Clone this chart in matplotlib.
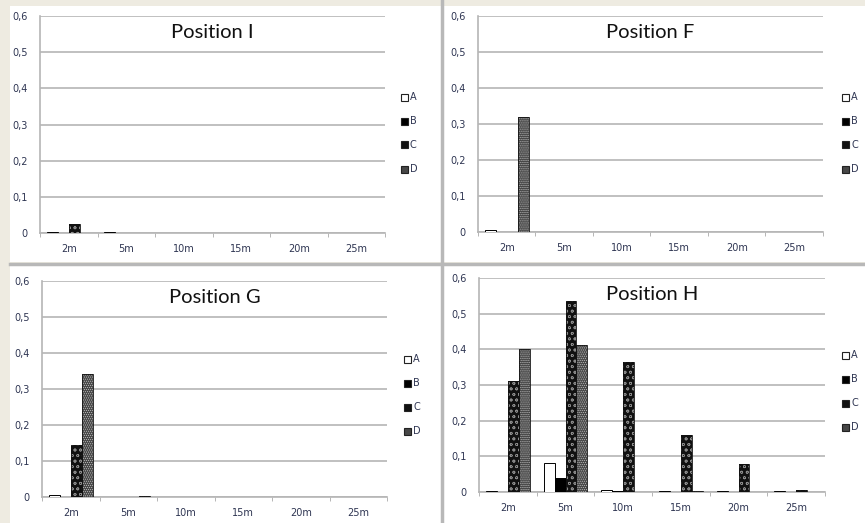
import matplotlib
matplotlib.use("Agg")
import matplotlib.pyplot as plt
import numpy as np
from matplotlib.patches import Rectangle
from matplotlib.lines import Line2D

categories = ["2m", "5m", "10m", "15m", "20m", "25m"]
series = ["A", "B", "C", "D"]
y_ticks = [0, 0.1, 0.2, 0.3, 0.4, 0.5, 0.6]
y_tick_labels = ["0", "0,1", "0,2", "0,3", "0,4", "0,5", "0,6"]

# Position I
pos_I_A = [0.003, 0.003, 0.0, 0.0, 0.0, 0.0]
pos_I_B = [0.0, 0.001, 0.0, 0.0, 0.0, 0.0]
pos_I_C = [0.025, 0.001, 0.0, 0.0, 0.0, 0.0]
pos_I_D = [0.0, 0.0, 0.0, 0.0, 0.0, 0.0]
# Position F
pos_F_A = [0.005, 0.0, 0.0, 0.0, 0.0, 0.0]
pos_F_B = [0.0, 0.0, 0.0, 0.0, 0.0, 0.0]
pos_F_C = [0.001, 0.0, 0.001, 0.001, 0.0, 0.0]
pos_F_D = [0.32, 0.0, 0.0, 0.0, 0.0, 0.0]
# Position G
pos_G_A = [0.005, 0.0, 0.0, 0.0, 0.0, 0.0]
pos_G_B = [0.0, 0.0, 0.0, 0.0, 0.0, 0.0]
pos_G_C = [0.145, 0.0, 0.0, 0.0, 0.0, 0.0]
pos_G_D = [0.342, 0.004, 0.0, 0.0, 0.0, 0.0]
# Position H
pos_H_A = [0.004, 0.08, 0.007, 0.002, 0.002, 0.002]
pos_H_B = [0.0, 0.04, 0.002, 0.0, 0.0, 0.0]
pos_H_C = [0.31, 0.535, 0.365, 0.16, 0.078, 0.006]
pos_H_D = [0.40, 0.413, 0.0, 0.003, 0.0, 0.001]

panels = [
    ("Position I", [pos_I_A, pos_I_B, pos_I_C, pos_I_D], (40, 385, 16, 233), (405, 97)),
    ("Position F", [pos_F_A, pos_F_B, pos_F_C, pos_F_D], (478, 823, 16, 232), (846, 97)),
    ("Position G", [pos_G_A, pos_G_B, pos_G_C, pos_G_D], (42, 387, 281, 497), (408, 359)),
    ("Position H", [pos_H_A, pos_H_B, pos_H_C, pos_H_D], (479, 825, 278, 492), (846, 355)),
]

W, H = 865, 523
fig = plt.figure(figsize=(W / 100, H / 100), dpi=100)
fig.patch.set_facecolor("#eeebe1")

def fx(x):
    return x / W

def fy(y):
    return 1 - y / H

# white panels
for (x0, y0, x1, y1) in [(10, 6, 441, 262), (443, 6, 865, 262), (10, 265, 441, 523), (443, 265, 865, 523)]:
    fig.patches.append(Rectangle((fx(x0), fy(y1)), fx(x1 - x0), (y1 - y0) / H,
                                 transform=fig.transFigure, facecolor="white", edgecolor="none", zorder=-5))
# separators
fig.add_artist(Line2D([fx(441.5), fx(441.5)], [0, 1], transform=fig.transFigure, color="#b8b8b8", lw=2.5, zorder=-4))
fig.add_artist(Line2D([fx(10), 1], [fy(263.5), fy(263.5)], transform=fig.transFigure, color="#b8b8b8", lw=2.5, zorder=-4))

styles = [
    dict(face="white", hatch=None, hcol="black"),
    dict(face="black", hatch=None, hcol="black"),
    dict(face="#111111", hatch="ooo", hcol="#8a8a8a"),
    dict(face="#474747", hatch="........", hcol="#c0c0c0"),
]

plt.rcParams["hatch.linewidth"] = 0.5
tick_color = "#2e3552"
x = np.arange(len(categories))
bw = 0.19

for title, vals, (l, r, t, b), (lx, ly) in panels:
    ax = fig.add_axes([fx(l), fy(b), (r - l) / W, (b - t) / H])
    ax.set_facecolor("white")
    for i, (v, st) in enumerate(zip(vals, styles)):
        pos = x + (i - 1.5) * bw
        if st["hatch"]:
            ax.bar(pos, v, bw, color=st["face"], hatch=st["hatch"], edgecolor=st["hcol"], linewidth=0, zorder=3)
            ax.bar(pos, v, bw, fill=False, edgecolor="#111111", linewidth=0.6, zorder=4)
        else:
            ax.bar(pos, v, bw, color=st["face"], edgecolor="black", linewidth=0.7, zorder=3)
    ax.set_xlim(-0.5, len(categories) - 0.5)
    ax.set_ylim(0, 0.6)
    ax.set_yticks(y_ticks)
    ax.set_yticklabels(y_tick_labels)
    ax.set_xticks(x)
    ax.set_xticklabels(categories)
    ax.set_xticks(np.arange(len(categories) + 1) - 0.5, minor=True)
    ax.tick_params(axis="x", which="major", length=0, pad=8, labelsize=7, labelcolor=tick_color)
    ax.tick_params(axis="x", which="minor", length=3, color="#aaaaaa", direction="out")
    ax.tick_params(axis="y", length=0, pad=9, labelsize=7, labelcolor=tick_color)
    ax.yaxis.grid(True, color="#b5b5b5", lw=1.2, zorder=0)
    ax.set_axisbelow(True)
    for s in ["top", "right"]:
        ax.spines[s].set_visible(False)
    ax.spines["left"].set_color("#b5b5b5")
    ax.spines["left"].set_linewidth(1.2)
    ax.spines["bottom"].set_color("#b5b5b5")
    ax.spines["bottom"].set_linewidth(1.2)
    ax.text(0.5, 0.925, title, transform=ax.transAxes, ha="center", va="center",
            fontsize=14.5, family=["Lato", "DejaVu Sans"], color="#111111")
    # legend
    for i, (name, st) in enumerate(zip(series, styles)):
        yy = ly + i * 24
        fig.patches.append(Rectangle((fx(lx - 4), fy(yy + 3.5)), 7 / W, 7 / H, transform=fig.transFigure,
                                     facecolor=st["face"], edgecolor="#222222", lw=0.8, zorder=5))
        fig.text(fx(lx + 5), fy(yy), name, ha="left", va="center", fontsize=7, color=tick_color)

fig.savefig("out.png", dpi=100, facecolor=fig.get_facecolor())
